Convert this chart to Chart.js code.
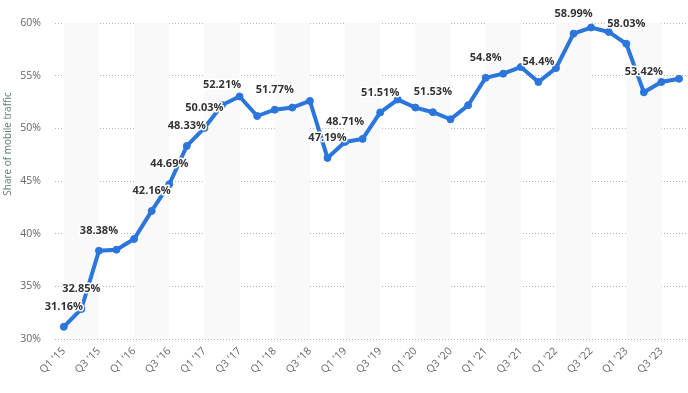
<!DOCTYPE html>
<html>
<head>
<meta charset="utf-8">
<script src="https://cdn.jsdelivr.net/npm/chart.js@4.4.0/dist/chart.umd.min.js"></script>
<style>
  html, body { margin: 0; padding: 0; background: #fff; overflow: hidden; }
  #wrap { width: 694px; height: 393px; position: relative; }
</style>
</head>
<body>
<div id="wrap"><canvas id="lineChart"></canvas></div>
<script>
// quarters Q1 '15 .. Q4 '23
var quarters = [
  "Q1 '15", "Q2 '15", "Q3 '15", "Q4 '15",
  "Q1 '16", "Q2 '16", "Q3 '16", "Q4 '16",
  "Q1 '17", "Q2 '17", "Q3 '17", "Q4 '17",
  "Q1 '18", "Q2 '18", "Q3 '18", "Q4 '18",
  "Q1 '19", "Q2 '19", "Q3 '19", "Q4 '19",
  "Q1 '20", "Q2 '20", "Q3 '20", "Q4 '20",
  "Q1 '21", "Q2 '21", "Q3 '21", "Q4 '21",
  "Q1 '22", "Q2 '22", "Q3 '22", "Q4 '22",
  "Q1 '23", "Q2 '23", "Q3 '23", "Q4 '23"
];

var mobileShare = [
  31.16, 32.85, 38.38, 38.48,
  39.5, 42.16, 44.69, 48.33,
  50.03, 52.21, 53.03, 51.17,
  51.77, 51.97, 52.6, 47.19,
  48.71, 49.0, 51.51, 52.73,
  51.97, 51.53, 50.86, 52.19,
  54.8, 55.19, 55.82, 54.4,
  55.72, 58.99, 59.57, 59.15,
  58.03, 53.42, 54.4, 54.71
];

// which points carry a value label
var labelShown = [
  1, 1, 1, 0,
  0, 1, 1, 1,
  1, 1, 0, 0,
  1, 0, 0, 1,
  1, 0, 1, 0,
  0, 1, 0, 0,
  1, 0, 0, 1,
  0, 1, 0, 0,
  1, 1, 0, 0
];

var yTicks = [30, 35, 40, 45, 50, 55, 60];
var yTitle = 'Share of mobile traffic';

function fmtPct(v) {
  return (Math.round(v * 100) / 100) + '%';
}

/** alternating column bands **/
var bandPlugin = {
  id: 'bands',
  beforeDatasetsDraw: function (chart) {
    var ctx = chart.ctx, x = chart.scales.x, area = chart.chartArea;
    ctx.save();
    ctx.fillStyle = '#f9f9f9';
    for (var i = 0; i + 2 < quarters.length; i += 4) {
      var x0 = x.getPixelForValue(i), x1 = x.getPixelForValue(i + 2);
      ctx.fillRect(x0, area.top, x1 - x0, area.bottom - area.top);
    }
    ctx.restore();
  }
};

/** value labels + axis title **/
var labelPlugin = {
  id: 'valueLabels',
  afterDatasetsDraw: function (chart) {
    var ctx = chart.ctx;
    var meta = chart.getDatasetMeta(0);
    ctx.save();
    ctx.font = '700 11px "Open Sans"';
    ctx.textAlign = 'center';
    ctx.textBaseline = 'middle';
    ctx.lineJoin = 'round';
    meta.data.forEach(function (pt, i) {
      if (!labelShown[i]) return;
      var txt = fmtPct(mobileShare[i]);
      ctx.strokeStyle = '#fff';
      ctx.lineWidth = 3;
      ctx.strokeText(txt, pt.x, pt.y - 20);
      ctx.fillStyle = '#333';
      ctx.fillText(txt, pt.x, pt.y - 20);
    });
    ctx.restore();

    // y title sits a bit above the middle of the plot
    ctx.save();
    ctx.translate(8, 144);
    ctx.rotate(-Math.PI / 2);
    ctx.font = '10px "Open Sans"';
    ctx.fillStyle = '#5e7d73';
    ctx.textAlign = 'center';
    ctx.textBaseline = 'middle';
    ctx.fillText(yTitle, 0, 0);
    ctx.restore();
  }
};

var lineData = {
  labels: quarters,
  datasets: [
    {
      label: yTitle,
      data: mobileShare,
      borderColor: '#2a76dd',
      backgroundColor: '#2a76dd',
      pointBackgroundColor: '#2a76dd',
      pointBorderColor: '#2a76dd',
      borderWidth: 4,
      pointRadius: 3.5,
      pointBorderWidth: 1,
      pointHoverRadius: 3.5,
      tension: 0,
      clip: false
    }
  ]
};

var lineOptions = {
  responsive: true,
  maintainAspectRatio: false,
  animation: false,
  layout: { padding: { top: 23, right: 0, left: 0, bottom: 11 } },
  plugins: {
    legend: { display: false },
    tooltip: { enabled: false }
  },
  scales: {
    x: {
      offset: true,
      grid: { display: false, drawTicks: false },
      border: { display: false },
      ticks: {
        autoSkip: false,
        maxRotation: 45,
        minRotation: 45,
        padding: 6,
        color: '#666',
        font: { family: '"Open Sans"', size: 10.5 },
        callback: function (val, idx) {
          return idx % 2 === 0 ? quarters[idx] : '';
        }
      }
    },
    y: {
      min: 30,
      max: 60,
      afterBuildTicks: function (axis) {
        axis.ticks = yTicks.map(function (v) { return { value: v }; });
      },
      afterFit: function (axis) {
        axis.width = 55;
      },
      grid: {
        color: '#b5b5b5',
        lineWidth: 1,
        drawTicks: false
      },
      border: { display: false, dash: [1, 2] },
      ticks: {
        padding: 14,
        color: '#666',
        font: { family: '"Open Sans"', size: 10.5 },
        callback: function (v) { return v + '%'; }
      }
    }
  }
};

var ctx = document.getElementById('lineChart').getContext('2d');
new Chart(ctx, { type: 'line', data: lineData, options: lineOptions, plugins: [bandPlugin, labelPlugin] });
</script>
</body>
</html>
